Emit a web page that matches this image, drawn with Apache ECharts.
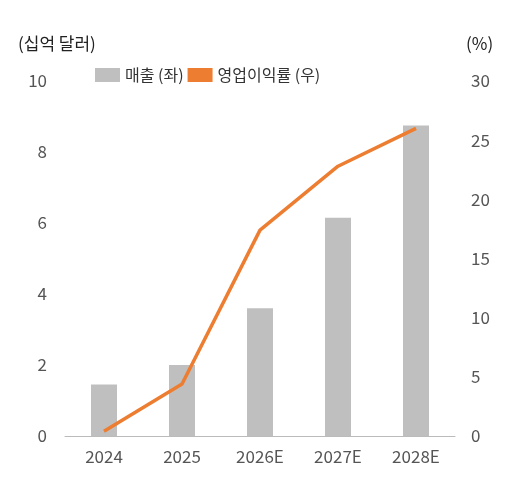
<!DOCTYPE html>
<html><head><meta charset="utf-8">
<script src="https://cdn.jsdelivr.net/npm/echarts@6/dist/echarts.min.js"></script>
<style>html,body{margin:0;background:#fff}#c{width:521px;height:494px}</style>
</head><body><div id="c"></div>
<script>
const categories=['2024','2025','2026E','2027E','2028E'];
const sales=[1.45,2.0,3.6,6.15,8.75];
const margin=[0.4,4.4,17.4,22.8,26.0];
const font='"Noto Sans CJK KR","Noto Sans",sans-serif';
const c=echarts.init(document.getElementById('c'));
c.setOption({
 animation:false,
 textStyle:{fontFamily:font},
 grid:{left:65,right:66,top:81,bottom:58},
 legend:{top:62,left:90,itemGap:4,textStyle:{fontSize:16,color:'#333',fontFamily:font},
  data:[{name:'매출 (좌)',icon:'rect',itemWidth:34,itemHeight:14},{name:'영업이익률 (우)',icon:'rect',itemWidth:36,itemHeight:3}]},
 graphic:[
  {type:'text',left:18,top:35,style:{text:'(십억 달러)',fontSize:17,fill:'#222',fontFamily:font}},
  {type:'text',left:466,top:35,style:{text:'(%)',fontSize:17,fill:'#222',fontFamily:font}}],
 xAxis:{type:'category',data:categories,axisTick:{show:false},
  axisLine:{lineStyle:{color:'#bbb'}},axisLabel:{fontSize:17,color:'#555',margin:12}},
 yAxis:[{type:'value',min:0,max:10,interval:2,splitLine:{show:false},axisLabel:{fontSize:17,color:'#555',margin:18}},
  {type:'value',min:0,max:30,interval:5,splitLine:{show:false},axisLabel:{fontSize:17,color:'#555',margin:16}}],
 series:[
  {name:'매출 (좌)',type:'bar',data:sales,barWidth:26,itemStyle:{color:'#bfbfbf'}},
  {name:'영업이익률 (우)',type:'line',yAxisIndex:1,data:margin,symbol:'none',lineStyle:{color:'#ed7d31',width:3.5},itemStyle:{color:'#ed7d31'}}]
});
</script></body></html>
